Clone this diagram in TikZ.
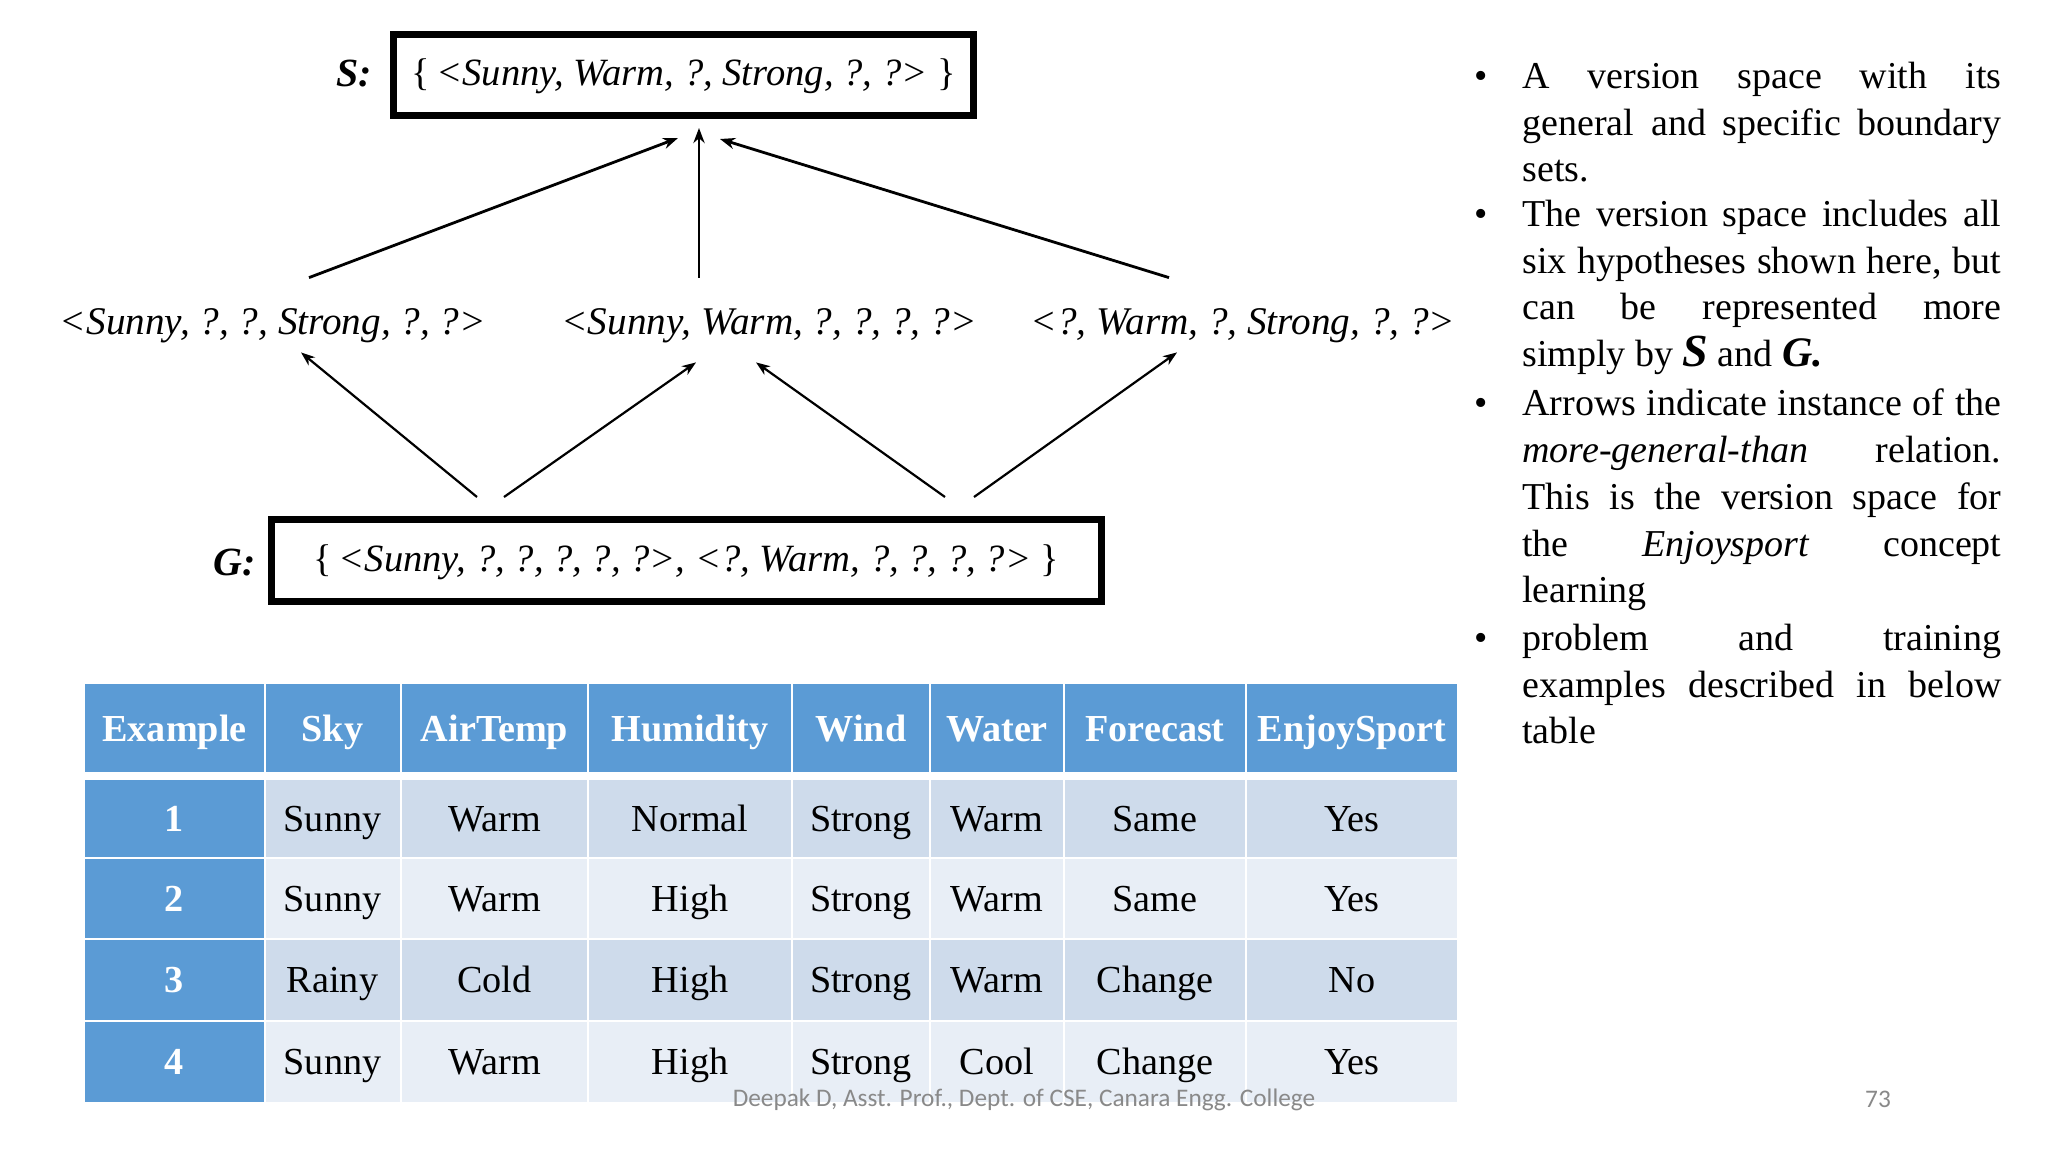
\documentclass[tikz,border=0pt]{standalone}
\usepackage{fontspec}
\usetikzlibrary{arrows.meta}
\setmainfont{Liberation Serif}
\newfontfamily\footfont{Carlito}
\definecolor{headblue}{HTML}{5B9BD5}
\definecolor{rowdark}{HTML}{CEDBEB}
\definecolor{rowlight}{HTML}{E8EEF6}
\definecolor{footgray}{HTML}{898989}
\newcommand{\hypfont}{\fontsize{19.6}{22}\selectfont\itshape}
\newcommand{\boxfont}{\fontsize{19.3}{22}\selectfont\itshape}
\newcommand{\cellfont}{\fontsize{19.1}{22}\selectfont}
\newcommand{\lbrc}{{\upshape\{}\,}
\newcommand{\rbrc}{{\upshape\}}}
\tikzset{
  setbox/.style={draw,line width=3.5pt,inner sep=0pt,font=\boxfont,text height=14.5pt,text depth=4pt},
  hyp/.style={inner sep=0pt,minimum height=42pt,font=\hypfont,text height=18pt,text depth=4pt},
  setlabel/.style={inner sep=0pt,font=\fontsize{20}{22}\selectfont\bfseries\itshape},
  morearrow/.style={-{Stealth[length=7pt,width=5.2pt,inset=2.2pt]},line width=1.1pt},
  toparrow/.style={-{Stealth[length=7.5pt,width=5.6pt,inset=2.4pt]},line width=1.4pt},
  cell/.style={inner sep=0pt,text=black,font=\cellfont,text height=17pt,text depth=4pt},
  headcell/.style={cell,fill=headblue,text=white,font=\cellfont\bfseries},
  bullettxt/.style={anchor=north west,inner sep=0pt,text width=239.5pt,align=justify,
    font=\fontsize{19}{23.4}\selectfont},
  bulletdot/.style={inner sep=0pt,font=\fontsize{19}{22}\selectfont},
  foot/.style={inner sep=0pt,text=footgray,font=\footfont\fontsize{12.65}{15}\selectfont}
}
\begin{document}
\begin{tikzpicture}[x=0.5pt,y=-0.5pt]
\useasboundingbox (0,0) rectangle (2048,1152);
\fill[white] (0,0) rectangle (2048,1152);
% version space
\node[setbox,minimum width=290pt,minimum height=40.5pt] (sBox) at (683.5,75) {\lbrc<Sunny, Warm, ?, Strong, ?, ?> \rbrc};
\node[setlabel] (sLabel) at (354,74) {S:};
\node[hyp] (hypA) at (273,320) {<Sunny, ?, ?, Strong, ?, ?>};
\node[hyp] (hypB) at (769,320) {<Sunny, Warm, ?, ?, ?, ?>};
\node[hyp] (hypC) at (1243,320) {<?, Warm, ?, Strong, ?, ?>};
\node[setbox,minimum width=415pt,minimum height=41pt] (gBox) at (686.5,560.5) {\lbrc<Sunny, ?, ?, ?, ?, ?>, <?, Warm, ?, ?, ?, ?> \rbrc};
\node[setlabel] (gLabel) at (235,563) {G:};
% arrows
\draw[toparrow] ([xshift=18pt]hypA.north) -- ([xshift=-2.75pt,yshift=-9.5pt]sBox.south);
\draw[toparrow] ([xshift=-35pt]hypB.north) -- ([xshift=7.75pt,yshift=-4.5pt]sBox.south);
\draw[toparrow] ([xshift=-37pt]hypC.north) -- ([xshift=18.25pt,yshift=-10pt]sBox.south);
\draw[morearrow] ([xshift=-104.75pt,yshift=9.5pt]gBox.north) -- ([xshift=14pt,yshift=5pt]hypA.south);
\draw[morearrow] ([xshift=-91.25pt,yshift=9.5pt]gBox.north) -- ([xshift=-36.5pt]hypB.south);
\draw[morearrow] ([xshift=129.25pt,yshift=9.5pt]gBox.north) -- ([xshift=-6.5pt]hypB.south);
\draw[morearrow] ([xshift=143.75pt,yshift=9.5pt]gBox.north) -- ([xshift=-33pt,yshift=5pt]hypC.south);
% table head
\foreach \n/\x/\w/\t in {0/174.5/89.5/Example,1/332.5/67/Sky,2/494.5/92.5/AirTemp,3/690/101/Humidity,
  4/861/68/Wind,5/997/66/Water,6/1155/90/Forecast,7/1352/105/EnjoySport}
\node[headcell,minimum width=\w pt,minimum height=44pt] (head\n) at (\x,728) {\t};
% table rows
\foreach \r/\y/\h/\tint/\a/\b/\c/\d/\e/\f/\g in {
  1/818/38.5/rowdark/Sunny/Warm/Normal/Strong/Warm/Same/Yes,
  2/898/39.5/rowlight/Sunny/Warm/High/Strong/Warm/Same/Yes,
  3/979.5/40/rowdark/Rainy/Cold/High/Strong/Warm/Change/No,
  4/1061.5/40/rowlight/Sunny/Warm/High/Strong/Cool/Change/Yes}{
\node[headcell,minimum width=89.5pt,minimum height=\h pt] (row\r num) at (174.5,\y) {\r};
\foreach \n/\x/\w/\t in {1/332.5/67/\a,2/494.5/92.5/\b,3/690/101/\c,4/861/68/\d,5/997/66/\e,6/1155/90/\f,7/1352/105/\g}
\node[cell,fill=\tint,minimum width=\w pt,minimum height=\h pt] (row\r col\n) at (\x,\y) {\t};
}
% right hand text
\foreach \n/\y in {1/80,2/218,3/407,4/642}
\node[bulletdot] (dot\n) at (1481,\y) {•};
\node[bullettxt] (txtA) at (1522,61.5) {A version space with its\linebreak general and specific boundary\linebreak sets.};
\node[bullettxt] (txtB) at (1522,199.5) {The version space includes all\linebreak six hypotheses shown here, but\linebreak can be represented more\linebreak simply by {\fontsize{23}{23}\selectfont\bfseries\itshape S} and {\fontsize{21}{23}\selectfont\bfseries\itshape G.}};
\node[bullettxt] (txtC) at (1522,388.5) {Arrows indicate instance of the\linebreak \textit{more-general-than} relation.\linebreak This is the version space for\linebreak the \textit{Enjoysport} concept\linebreak learning};
\node[bullettxt] (txtD) at (1522,623.5) {problem and training\linebreak examples described in below\linebreak table};
% footer
\node[foot] (footText) at (1024,1100) {Deepak D, Asst. Prof., Dept. of CSE, Canara Engg. College};
\node[foot] (pageNum) at (1878,1099) {73};
\end{tikzpicture}
\end{document}
